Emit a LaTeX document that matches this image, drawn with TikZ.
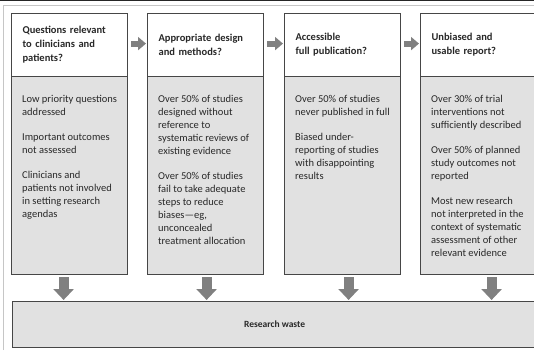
\documentclass[tikz,border=0pt]{standalone}
\usepackage{fontspec}
\setmainfont{Carlito}
\usetikzlibrary{arrows.meta}

\definecolor{boxline}{RGB}{70,70,70}
\definecolor{boxfill}{RGB}{225,225,225}
\definecolor{arrowgray}{RGB}{128,128,128}
\definecolor{textgray}{RGB}{40,40,40}

\tikzset{
  header/.style={draw=boxline, line width=1.2pt, fill=white, anchor=north west,
    minimum width=116pt, minimum height=63pt, text width=94pt, inner xsep=11pt,
    align=left, text=textgray, font=\fontsize{10.5}{14}\selectfont\bfseries},
  body/.style={draw=boxline, line width=1.2pt, fill=boxfill, anchor=north west,
    minimum width=116pt, minimum height=198pt},
  bodytext/.style={anchor=north west, inner sep=0pt, align=left, text=textgray,
    font=\fontsize{10.5}{13}\selectfont},
  flowarrow/.style={arrowgray, line width=6pt, -{Triangle[width=13pt,length=8pt]},
    shorten <=3pt, shorten >=1pt},
  downarrow/.style={arrowgray, line width=10pt, -{Triangle[width=20pt,length=11pt]},
    shorten <=2pt, shorten >=1pt}
}

\begin{document}
\begin{tikzpicture}[x=1pt,y=-1pt]
  \useasboundingbox (0,0) rectangle (534,350);
  \fill[black!85] (0,0) rectangle (534,1.5);
  \draw[gray!45, line width=0.8pt] (3,350) -- (3,5) -- (534,5);

  \node[header] (h1) at (11,13) {Questions relevant\\to clinicians and\\patients?};
  \node[header] (h2) at (147,13) {Appropriate design\\and methods?};
  \node[header] (h3) at (284,13) {Accessible\\full publication?};
  \node[header] (h4) at (420,13) {Unbiased and\\usable report?};

  \node[body] (b1) at (11,76) {};
  \node[body] (b2) at (147,76) {};
  \node[body] (b3) at (284,76) {};
  \node[body] (b4) at (420,76) {};

  \node[bodytext] (t1) at ([shift={(11pt,-19pt)}]b1.north west)
    {Low priority questions\\addressed\\[12pt]Important outcomes\\not assessed\\[12pt]Clinicians and\\patients not involved\\in setting research\\agendas};
  \node[bodytext] (t2) at ([shift={(11pt,-19pt)}]b2.north west)
    {Over 50\% of studies\\designed without\\reference to\\systematic reviews of\\existing evidence\\[12pt]Over 50\% of studies\\fail to take adequate\\steps to reduce\\biases---eg,\\unconcealed\\treatment allocation};
  \node[bodytext] (t3) at ([shift={(11pt,-19pt)}]b3.north west)
    {Over 50\% of studies\\never published in full\\[12pt]Biased under-\\reporting of studies\\with disappointing\\results};
  \node[bodytext] (t4) at ([shift={(11pt,-19pt)}]b4.north west)
    {Over 30\% of trial\\interventions not\\sufficiently described\\[12pt]Over 50\% of planned\\study outcomes not\\reported\\[12pt]Most new research\\not interpreted in the\\context of systematic\\assessment of other\\relevant evidence};

  \node[body, minimum width=524pt, minimum height=46pt, text=textgray,
    font=\fontsize{9.5}{12}\selectfont\bfseries] (waste) at (12,301) {Research waste};

  \draw[flowarrow] ([yshift=1.5pt]h1.east) -- ([yshift=1.5pt]h2.west);
  \draw[flowarrow] ([yshift=1.5pt]h2.east) -- ([yshift=1.5pt]h3.west);
  \draw[flowarrow] ([yshift=1.5pt]h3.east) -- ([yshift=1.5pt]h4.west);

  \draw[downarrow] ([xshift=-6pt]b1.south) -- ([xshift=-6pt]b1.south |- waste.north);
  \draw[downarrow] ([xshift=1pt]b2.south) -- ([xshift=1pt]b2.south |- waste.north);
  \draw[downarrow] ([xshift=6pt]b3.south) -- ([xshift=6pt]b3.south |- waste.north);
  \draw[downarrow] ([xshift=13pt]b4.south) -- ([xshift=13pt]b4.south |- waste.north);
\end{tikzpicture}
\end{document}
